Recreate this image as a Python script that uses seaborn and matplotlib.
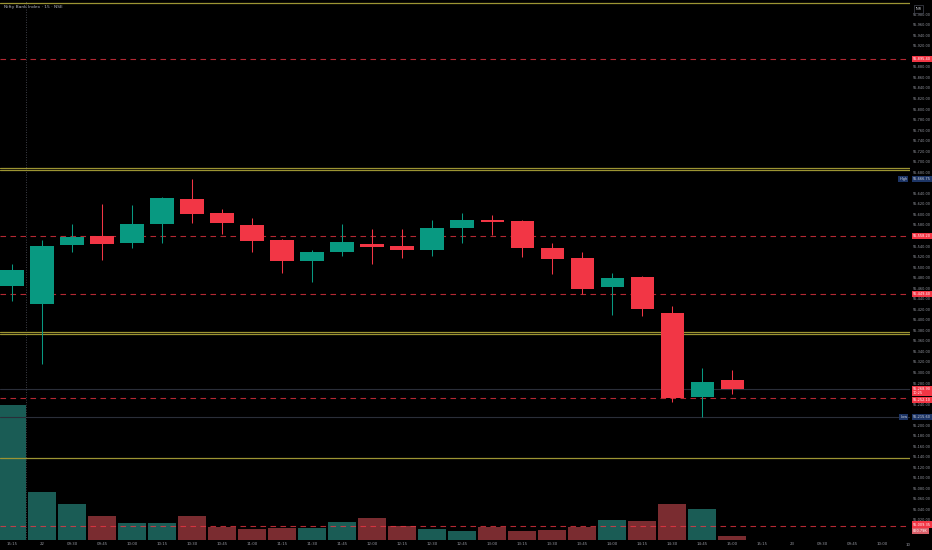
import numpy as np
import pandas as pd
import matplotlib
matplotlib.use("Agg")
import matplotlib.pyplot as plt
import matplotlib.transforms as mtransforms
import seaborn as sns

# -----------------------------
# Data (Nifty Bank Index, 15 min)
# -----------------------------
candle_times = ["15:15", "09:15", "09:30", "09:45", "10:00", "10:15", "10:30", "10:45",
                "11:00", "11:15", "11:30", "11:45", "12:00", "12:15", "12:30", "12:45",
                "13:00", "13:15", "13:30", "13:45", "14:00", "14:15", "14:30", "14:45", "15:00"]
open_ = [55464, 55430, 55542, 55559, 55545, 55582, 55630, 55602, 55579, 55551, 55512, 55528, 55544,
         55540, 55532, 55575, 55590, 55587, 55537, 55518, 55462, 55482, 55413, 55253, 55285]
high = [55506, 55551, 55582, 55620, 55618, 55634, 55666.75, 55610, 55594, 55553, 55532, 55582, 55573,
        55573, 55589, 55603, 55599, 55590, 55545, 55528, 55488, 55484, 55426, 55308, 55305]
low = [55436, 55316, 55529, 55513, 55536, 55546, 55583, 55563, 55529, 55488, 55472, 55521, 55506,
       55518, 55521, 55546, 55561, 55520, 55487, 55449, 55409, 55407, 55243, 55215.6, 55259]
close = [55494, 55541, 55558, 55544, 55582, 55631, 55601, 55583, 55549, 55512, 55528, 55547, 55538,
         55532, 55574, 55589, 55585, 55537, 55516, 55458, 55479, 55420, 55251, 55282, 55268.9]
volume_k = [28400, 10100, 7560, 5040, 3570, 3570, 5040, 2730, 2310, 2520, 2520, 3780, 4620,
            2940, 2310, 1890, 2730, 1890, 2100, 2730, 4200, 3990, 7560, 6510, 860.79]

axis_labels = ["15:15", "22", "09:30", "09:45", "10:00", "10:15", "10:30", "10:45", "11:00",
               "11:15", "11:30", "11:45", "12:00", "12:15", "12:30", "12:45", "13:00", "13:15",
               "13:30", "13:45", "14:00", "14:15", "14:30", "14:45", "15:00", "15:15", "23",
               "09:30", "09:45", "10:00"]

red_levels = [55895.40, 55558.20, 55449.40, 55252.10, 55009.35]
yellow_levels = [56002, 55688, 55684, 55377, 55373, 55138]
high_value = 55666.75
low_value = 55215.60
last_volume = "860.79K"
countdown = "10:25"

# -----------------------------
# Style
# -----------------------------
BG = "#000000"
UP = "#089981"
DOWN = "#f23645"
VOL_UP = "#1a5c55"
VOL_DOWN = "#7a2c30"
TXT = "#9598a1"
FS = 2.5

sns.set_style("dark", rc={"axes.facecolor": BG, "figure.facecolor": BG})
plt.rcParams["font.family"] = ["DejaVu Sans"]

fig = plt.figure(figsize=(9.32, 5.5), dpi=100)
rect = [0, 10 / 550, 910 / 932, 540 / 550]
ax_vol = fig.add_axes(rect)
ax = fig.add_axes(rect)
ax.patch.set_visible(False)

n = len(open_)
idx = np.arange(n)
direction = ["up" if c >= o else "down" for o, c in zip(open_, close)]

# volume behind the price
vol_df = pd.DataFrame({"idx": idx, "volume": volume_k, "dir": direction})
sns.barplot(data=vol_df, x="idx", y="volume", hue="dir", palette={"up": VOL_UP, "down": VOL_DOWN},
            native_scale=True, width=0.96, dodge=False, legend=False, errorbar=None,
            saturation=1, linewidth=0, ax=ax_vol)
ax_vol.set_ylim(0, max(volume_k) * 540 / 135)
ax_vol.set_xlim(-0.4, 29.93)
ax_vol.axis("off")

# candles
cols = [UP if d == "up" else DOWN for d in direction]
ax.vlines(idx, low, high, colors=cols, lw=0.75, zorder=3)
body_lo = np.minimum(open_, close)
body_h = np.abs(np.array(close) - np.array(open_))
ax.bar(idx, body_h, bottom=body_lo, width=0.77, color=cols, linewidth=0, zorder=4)

ax.set_xlim(-0.4, 29.93)
ax.set_ylim(54982, 56007)

# level lines
for lv in yellow_levels:
    ax.axhline(lv, color="#9c9433", lw=0.9, zorder=2)
for lv in red_levels:
    ax.axhline(lv, color=DOWN, lw=0.8, alpha=0.75, dashes=(5, 4), zorder=2)
ax.axhline(close[-1], color="#2a2e39", lw=0.8, zorder=1)
ax.axhline(low_value, color="#2a2e39", lw=0.8, zorder=1)
ax.axvline(0.45, color="#50535e", lw=0.6, dashes=(1, 2), zorder=1)

# axes / ticks (skip scale labels hidden behind the price tags)
tag_levels = red_levels + [close[-1], close[-1] - 9, high_value, low_value]
for s in ax.spines.values():
    s.set_visible(False)
ax.grid(False)
ax.yaxis.tick_right()
yt = [v for v in range(55020, 55981, 20) if min(abs(v - t) for t in tag_levels) > 9]
ax.set_yticks(yt)
ax.set_yticklabels([f"{v:,.2f}" for v in yt])
ax.tick_params(axis="y", length=0, pad=2.2, labelsize=FS, labelcolor=TXT)
ax.set_xticks(np.arange(len(axis_labels)))
ax.set_xticklabels(axis_labels)
ax.tick_params(axis="x", length=0, pad=1.2, labelsize=FS + 0.3, labelcolor=TXT)
ax.text(29.85, -0.006, "10", transform=mtransforms.blended_transform_factory(ax.transData, ax.transAxes),
        ha="center", va="top", fontsize=FS + 0.3, color=TXT)

# price tags on the right scale
tr = mtransforms.blended_transform_factory(ax.transAxes, ax.transData)


def tag(y, txt, fc, tc="white", x=1.003, ha="left", alpha=1.0):
    ax.text(x, y, txt, transform=tr, ha=ha, va="center", fontsize=FS, color=tc, zorder=10,
            clip_on=False, linespacing=1.1,
            bbox=dict(boxstyle="square,pad=0.3", fc=fc, ec="none", alpha=alpha))


tag(red_levels[0], f"{red_levels[0]:,.2f}", DOWN)
tag(red_levels[1], f"{red_levels[1]:,.2f}", DOWN)
tag(red_levels[2], f"{red_levels[2]:,.2f}", DOWN)
tag(close[-1] - 4, f"{close[-1]:,.2f}\n{countdown}", DOWN)
tag(red_levels[3] - 4, f"{red_levels[3]:,.2f}", DOWN)
tag(red_levels[4] + 2, f"{red_levels[4]:,.2f}", DOWN)
tag(54999, last_volume, "#d9606a")
tag(high_value, f"{high_value:,.2f}", "#1d3566", tc="#d1d4dc")
tag(high_value, "High", "#1d3566", tc="#d1d4dc", x=0.997, ha="right")
tag(low_value, f"{low_value:,.2f}", "#1d3566", tc="#d1d4dc")
tag(low_value, "Low", "#1d3566", tc="#d1d4dc", x=0.997, ha="right")

ax.text(1.006, 55990, "INR", transform=tr, ha="left", va="center", fontsize=FS, color="#d1d4dc",
        clip_on=False, bbox=dict(boxstyle="square,pad=0.5", fc=BG, ec="#434651", lw=0.5))

ax.text(0.004, 0.987, "Nifty Bank Index · 15 · NSE", transform=ax.transAxes, ha="left", va="center",
        fontsize=3.2, color="#b2b5be")

fig.savefig("out.png", dpi=100, facecolor=BG)
